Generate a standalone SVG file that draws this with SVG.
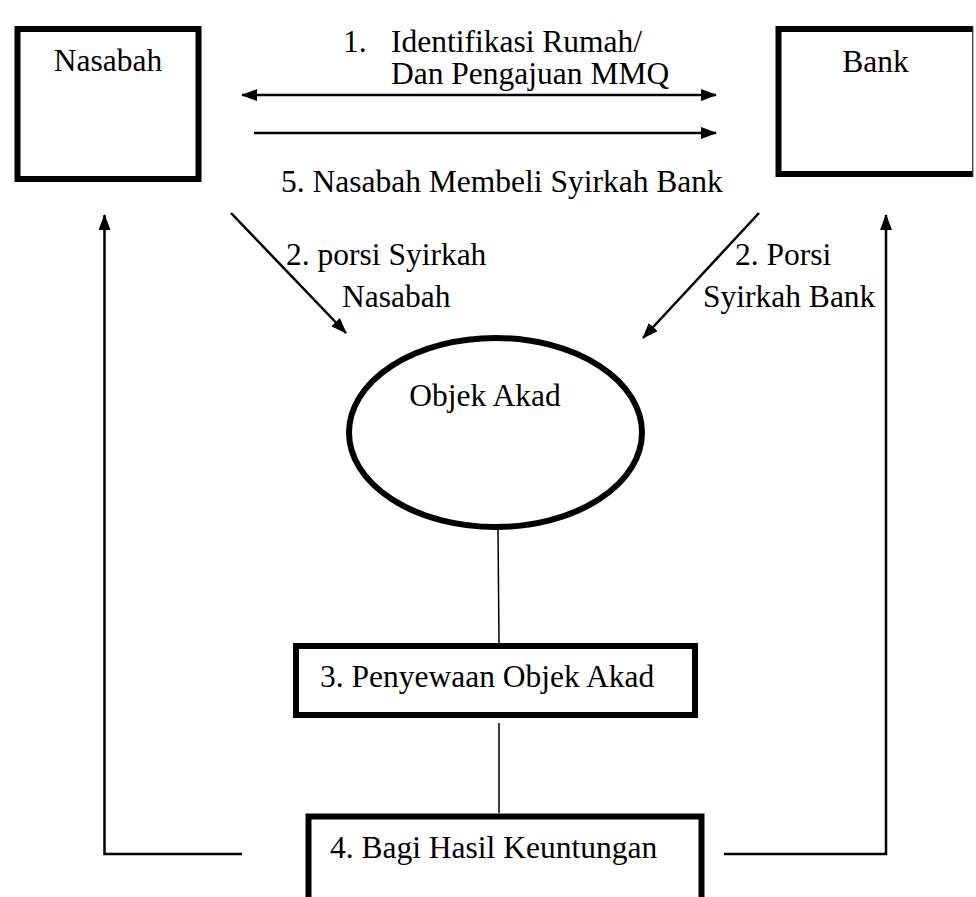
<svg xmlns="http://www.w3.org/2000/svg" width="976" height="897" viewBox="0 0 976 897">
<defs>
<marker id="ah" viewBox="0 0 16 12" refX="15" refY="6" markerWidth="16" markerHeight="12" markerUnits="userSpaceOnUse" orient="auto-start-reverse">
<path d="M0,0 L16,6 L0,12 Z" fill="#000"/>
</marker>
</defs>
<style>
.t{font-family:"Liberation Serif","Times New Roman",serif;font-size:31.5px;fill:#000}
.box{fill:none;stroke:#000;stroke-width:6}
.ln{fill:none;stroke:#000;stroke-width:2.5}
.thin{fill:none;stroke:#000;stroke-width:1.5}
</style>
<rect width="976" height="897" fill="#fff"/>
<g id="nasabah">
<rect class="box" x="17.5" y="29" width="181" height="150"/>
<text class="t" x="108" y="71" text-anchor="middle">Nasabah</text>
</g>
<g id="bank">
<path class="box" d="M972.5,29 H778.5 V174 H972.5"/>
<line x1="972.8" y1="26" x2="972.8" y2="177" stroke="#000" stroke-width="1"/>
<text class="t" x="875.5" y="72" text-anchor="middle">Bank</text>
</g>
<g id="objek-akad">
<ellipse cx="495.5" cy="432.5" rx="146.5" ry="94.5" fill="none" stroke="#000" stroke-width="6"/>
<text class="t" x="485" y="406" text-anchor="middle">Objek Akad</text>
</g>
<g id="penyewaan">
<rect class="box" x="296" y="646" width="399" height="69"/>
<text class="t" x="320" y="687">3. Penyewaan Objek Akad</text>
</g>
<g id="bagi-hasil">
<rect class="box" x="308.5" y="816.5" width="393" height="100"/>
<text class="t" x="330" y="858">4. Bagi Hasil Keuntungan</text>
</g>
<g id="connectors">
<line class="ln" x1="242" y1="95" x2="716" y2="95" marker-start="url(#ah)" marker-end="url(#ah)"/>
<line class="ln" x1="254" y1="133" x2="716" y2="133" marker-end="url(#ah)"/>
<line class="ln" x1="231" y1="213" x2="346" y2="333" marker-end="url(#ah)"/>
<line class="ln" x1="759" y1="213" x2="643" y2="338" marker-end="url(#ah)"/>
<line class="thin" x1="498" y1="530" x2="499" y2="643"/>
<line class="thin" x1="499" y1="723" x2="499" y2="813"/>
<polyline class="ln" points="242,854 104.5,854 104.5,215" marker-end="url(#ah)"/>
<polyline class="ln" points="724,854 886,854 886,215" marker-end="url(#ah)"/>
</g>
<g id="labels">
<text class="t" x="343" y="52">1.</text>
<text class="t" x="391" y="52">Identifikasi Rumah/</text>
<text class="t" x="391" y="84">Dan Pengajuan MMQ</text>
<text class="t" x="281" y="192">5. Nasabah Membeli Syirkah Bank</text>
<text class="t" x="286" y="265">2. porsi Syirkah</text>
<text class="t" x="342" y="307">Nasabah</text>
<text class="t" x="735" y="265">2. Porsi</text>
<text class="t" x="703" y="307">Syirkah Bank</text>
</g>
</svg>
